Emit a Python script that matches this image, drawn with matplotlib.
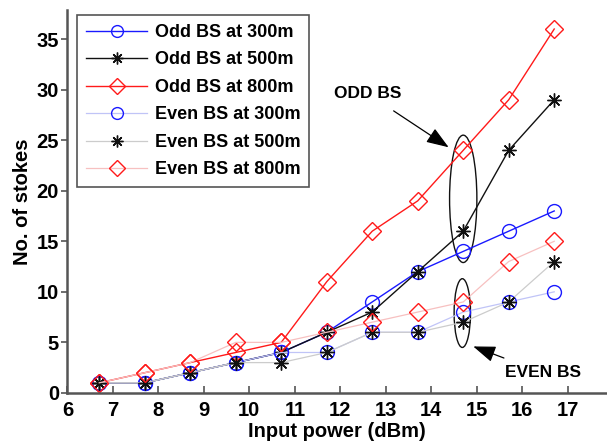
import numpy as np
import matplotlib
matplotlib.use('Agg')
import matplotlib.pyplot as plt
from matplotlib.patches import Ellipse

plt.rcParams['font.family'] = ['Liberation Sans', 'DejaVu Sans']
plt.rcParams['font.weight'] = 'bold'

# input power (dBm)
power = [6.7, 7.7, 8.7, 9.7, 10.7, 11.7, 12.7, 13.7, 14.7, 15.7, 16.7]

# number of stokes lines
odd_300 = [1, 1, 2, 3, 4, 6, 9, 12, 14, 16, 18]
odd_500 = [1, 1, 2, 3, 4, 6, 8, 12, 16, 24, 29]
odd_800 = [1, 2, 3, 4, 5, 11, 16, 19, 24, 29, 36]
even_300 = [1, 1, 2, 3, 4, 4, 6, 6, 8, 9, 10]
even_500 = [1, 1, 2, 3, 3, 4, 6, 6, 7, 9, 13]
even_800 = [1, 2, 3, 5, 5, 6, 7, 8, 9, 13, 15]

labels = ['Odd BS at 300m', 'Odd BS at 500m', 'Odd BS at 800m',
          'Even BS at 300m', 'Even BS at 500m', 'Even BS at 800m']

fig = plt.figure(figsize=(6.07, 4.46), dpi=100)
ax = fig.add_axes([0.111, 0.119, 0.889, 0.859])

star = (8, 2, 0)  # MATLAB-like asterisk

# odd BS (solid lines)
ax.plot(power, odd_300, '-', color='#1a1aff', lw=1.0, marker='o', ms=10,
        mfc='none', mec='#1a1aff', mew=1.0, label=labels[0])
ax.plot(power, odd_500, '-', color='#111111', lw=1.0, marker=star, ms=10,
        mec='#111111', mew=1.0, label=labels[1])
ax.plot(power, odd_800, '-', color='#ff1a1a', lw=1.0, marker='D', ms=9,
        mfc='none', mec='#ff1a1a', mew=1.0, label=labels[2])

# even BS (faint lines)
ax.plot(power, even_300, '-', color='#c0c4f7', lw=0.9, marker='o', ms=10,
        mfc='none', mec='#1a1aff', mew=1.0, label=labels[3])
ax.plot(power, even_500, '-', color='#cccccc', lw=0.9, marker=star, ms=10,
        mec='#111111', mew=1.0, label=labels[4])
ax.plot(power, even_800, '-', color='#f7c0c0', lw=0.9, marker='D', ms=9,
        mfc='none', mec='#ff1a1a', mew=1.0, label=labels[5])

# annotations
ax.add_patch(Ellipse((14.7, 19.2), 0.6, 12.6, fill=False, ec='#111111', lw=1.0))
ax.add_patch(Ellipse((14.68, 7.9), 0.36, 6.8, fill=False, ec='#111111', lw=1.0))
ax.annotate('ODD BS', xy=(14.38, 24.3), xytext=(12.6, 29.6),
            fontsize=12.5, fontweight='bold', ha='center', va='center',
            arrowprops=dict(arrowstyle='-|>,head_length=1.1,head_width=0.4',
                            color='black', lw=0.9, shrinkA=9, shrinkB=0))
ax.annotate('EVEN BS', xy=(14.92, 4.6), xytext=(16.45, 2.0),
            fontsize=12.5, fontweight='bold', ha='center', va='center',
            arrowprops=dict(arrowstyle='-|>,head_length=1.1,head_width=0.4',
                            color='black', lw=0.9, shrinkA=9, shrinkB=0))

ax.set_xlim(6, 17.86)
ax.set_ylim(0, 37.9)
ax.set_xticks(np.arange(6, 18, 1))
ax.set_yticks(np.arange(0, 36, 5))
ax.set_xlabel('Input power (dBm)', fontsize=14.5, fontweight='bold', labelpad=1)
ax.set_ylabel('No. of stokes', fontsize=14.5, fontweight='bold', labelpad=3)

for s in ['top', 'right']:
    ax.spines[s].set_visible(False)
for s in ['left', 'bottom']:
    ax.spines[s].set_color('#555555')
    ax.spines[s].set_linewidth(1.8)
ax.tick_params(axis='x', direction='in', length=5, width=1.2, color='#555555',
               labelsize=14.5, pad=6)
ax.tick_params(axis='y', direction='out', length=4, width=1.2, color='#555555',
               labelsize=14.5, pad=2)
for t in ax.get_xticklabels() + ax.get_yticklabels():
    t.set_fontweight('bold')

leg = ax.legend(loc='upper left', bbox_to_anchor=(77 / 607, 1 - 15 / 446),
                bbox_transform=fig.transFigure, borderaxespad=0,
                fancybox=False, framealpha=1, edgecolor='#555555',
                prop={'size': 13, 'weight': 'bold'}, handlelength=3.4,
                handletextpad=0.4, labelspacing=0.58, borderpad=0.5,
                markerscale=0.85)
leg.get_frame().set_linewidth(1.2)

fig.savefig('out.png', dpi=100)
